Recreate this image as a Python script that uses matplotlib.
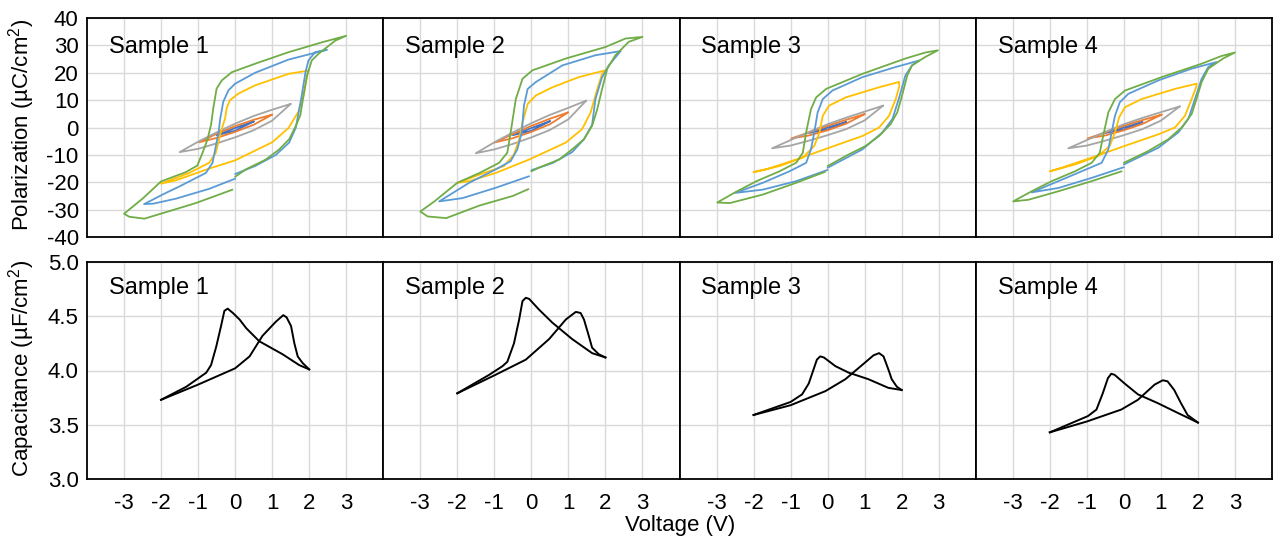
import matplotlib
matplotlib.use('Agg')
import matplotlib.pyplot as plt
import numpy as np

plt.rcParams['font.family'] = ['Liberation Sans', 'DejaVu Sans']
plt.rcParams['axes.unicode_minus'] = False
plt.rcParams['mathtext.fontset'] = 'custom'
plt.rcParams['mathtext.rm'] = 'Liberation Sans'
plt.rcParams['mathtext.it'] = 'Liberation Sans'

# --- P-V loops, (voltage V, polarization uC/cm2) in drawing order ---
S1_05 = [(0.5, 2.2), (0.0, -0.2), (-0.5, -2.8), (0.0, -1.2), (0.5, 2.2)]
S1_10 = [(1.0, 4.7), (0.5, 2.8), (0.0, 0.5), (-0.5, -2.3), (-0.97, -5.4), (-0.5, -3.8), (0.0, -1.6), (0.5, 1.0), (1.0, 4.7)]
S1_15 = [(1.5, 8.6), (1.0, 6.5), (0.5, 4.2), (0.0, 1.4), (-0.5, -1.8), (-1.0, -5.2), (-1.5, -9.0),
         (-1.0, -7.8), (-0.5, -5.8), (0.0, -3.6), (0.5, -1.0), (1.0, 2.5), (1.5, 8.6)]
S1_20 = [(1.98, 20.8), (1.44, 19.6), (0.54, 15.4), (0.09, 12.4), (-0.14, 10.0), (-0.23, 7.0), (-0.27, 3.4),
         (-0.39, -1.8), (-0.52, -9.2), (-0.7, -12.9), (-1.24, -16.6), (-2.0, -20.5), (-1.6, -19.3), (-0.7, -15.0),
         (0.0, -12.0), (1.0, -5.4), (1.44, -0.2), (1.71, 5.8), (1.85, 11.8), (1.94, 18.4), (1.98, 20.8)]
S1_25 = [(0.0, -17.0), (0.55, -14.0), (1.1, -10.0), (1.46, -5.5), (1.64, 0.0), (1.8, 11.8), (1.9, 20.2),
         (1.98, 24.5), (2.16, 27.5), (2.48, 28.4), (1.44, 24.8), (0.54, 20.0), (0.0, 16.0), (-0.18, 13.6),
         (-0.32, 9.4), (-0.4, 3.4), (-0.45, -2.0), (-0.52, -6.7), (-0.61, -12.9), (-0.79, -16.6), (-1.5, -21.5),
         (-1.96, -24.5), (-2.46, -28.0), (-2.2, -27.8), (-1.6, -26.0), (-0.7, -22.4), (0.0, -18.7)]
S1_30 = [(0.0, -18.0), (0.29, -15.3), (0.83, -11.7), (1.19, -8.0), (1.46, -4.3), (1.64, 0.6), (1.76, 4.5),
         (1.85, 11.8), (1.94, 19.0), (2.07, 24.5), (2.25, 26.9), (2.7, 31.7), (3.0, 33.5), (2.34, 31.1),
         (1.44, 27.5), (0.54, 23.3), (-0.09, 20.2), (-0.36, 17.2), (-0.5, 14.2), (-0.59, 7.0), (-0.65, 1.0),
         (-0.75, -4.5), (-0.89, -9.6), (-1.02, -13.9), (-1.33, -16.3), (-2.0, -19.7), (-2.5, -26.0),
         (-3.0, -31.5), (-2.86, -32.6), (-2.45, -33.3), (-1.96, -31.3), (-1.06, -27.6), (-0.07, -22.7)]

S2_05 = [(0.5, 2.3), (0.0, -0.2), (-0.5, -2.8), (0.0, -1.2), (0.5, 2.3)]
S2_10 = [(0.99, 5.5), (0.5, 3.2), (0.0, 0.6), (-0.5, -2.4), (-1.0, -5.5), (-0.5, -3.9), (0.0, -1.6), (0.5, 1.2), (0.99, 5.5)]
S2_15 = [(1.48, 9.8), (1.0, 7.2), (0.5, 4.6), (0.0, 1.6), (-0.5, -1.8), (-1.0, -5.4), (-1.5, -9.4),
         (-1.0, -8.0), (-0.5, -6.0), (0.0, -3.6), (0.5, -0.9), (1.0, 3.0), (1.48, 9.8)]
S2_20 = [(2.0, 20.9), (1.28, 18.4), (0.57, 14.7), (0.12, 11.7), (-0.1, 8.6), (-0.24, 1.8), (-0.33, -4.3),
         (-0.47, -9.8), (-0.74, -14.1), (-1.4, -17.2), (-2.0, -20.2), (-1.68, -19.6), (-0.96, -16.6),
         (-0.06, -11.7), (0.93, -5.5), (1.37, -0.6), (1.6, 5.5), (1.78, 14.1), (1.91, 19.6), (2.0, 20.9)]
S2_25 = [(0.0, -15.6), (0.57, -13.0), (1.1, -9.0), (1.42, -4.3), (1.64, 1.0), (1.73, 10.4), (1.9, 18.0),
         (2.09, 22.7), (2.41, 27.9), (1.73, 26.4), (0.84, 22.7), (0.12, 16.6), (-0.1, 14.1), (-0.2, 8.0),
         (-0.26, -1.8), (-0.38, -8.0), (-0.56, -12.3), (-0.96, -15.3), (-1.68, -20.2), (-2.49, -27.0),
         (-1.86, -25.8), (-0.96, -22.0), (-0.06, -17.8)]
S2_30 = [(0.0, -16.0), (0.2, -14.7), (0.75, -11.7), (1.1, -8.0), (1.42, -4.3), (1.64, 0.6), (1.78, 6.7),
         (1.91, 14.1), (2.05, 21.5), (2.27, 26.4), (2.63, 31.3), (3.0, 33.1), (2.54, 32.5), (2.0, 29.4),
         (0.93, 25.2), (0.03, 20.9), (-0.24, 17.8), (-0.42, 10.4), (-0.56, -1.8), (-0.65, -9.2), (-0.87, -12.9),
         (-1.4, -16.6), (-2.0, -20.2), (-2.62, -27.0), (-3.0, -30.7), (-2.8, -32.5), (-2.3, -33.1),
         (-1.4, -28.5), (-0.5, -25.0), (-0.08, -22.5)]

S3_05 = [(0.5, 2.0), (0.0, 0.0), (-0.5, -2.0), (0.0, -0.8), (0.5, 2.0)]
S3_10 = [(1.0, 4.9), (0.5, 2.8), (0.0, 0.6), (-0.5, -1.8), (-0.98, -4.0), (-0.5, -2.9), (0.0, -1.0), (0.5, 1.4), (1.0, 4.9)]
S3_15 = [(1.5, 8.0), (1.0, 5.8), (0.5, 3.6), (0.0, 1.2), (-0.5, -1.6), (-1.0, -4.6), (-1.5, -7.6),
         (-1.0, -6.6), (-0.5, -4.8), (0.0, -2.8), (0.5, -0.6), (1.0, 2.6), (1.5, 8.0)]
S3_20 = [(1.92, 16.6), (1.39, 14.7), (0.49, 11.0), (0.04, 8.0), (-0.13, 4.3), (-0.22, -1.8), (-0.36, -6.7),
         (-0.67, -11.0), (-1.3, -14.1), (-2.0, -16.3), (-1.66, -15.3), (-0.85, -11.7), (0.04, -7.4),
         (0.94, -3.1), (1.39, 0.0), (1.66, 4.3), (1.84, 10.4), (1.94, 15.3), (1.92, 16.6)]
S3_25 = [(0.0, -14.7), (0.94, -8.0), (1.48, -1.8), (1.75, 3.1), (1.92, 10.4), (2.1, 19.0), (2.28, 22.7),
         (2.48, 24.5), (1.84, 22.1), (0.94, 18.4), (0.13, 13.5), (-0.13, 10.4), (-0.27, 5.5), (-0.36, -1.8),
         (-0.45, -8.0), (-0.58, -12.9), (-1.03, -16.0), (-1.75, -20.2), (-2.5, -23.9), (-1.75, -22.7),
         (-0.85, -19.6), (0.0, -15.5)]
S3_30 = [(0.0, -14.1), (0.49, -10.4), (1.03, -6.7), (1.39, -3.1), (1.7, 1.2), (1.88, 5.5), (2.01, 11.7),
         (2.15, 19.0), (2.28, 22.7), (2.64, 25.8), (2.98, 28.2), (2.64, 27.4), (2.1, 25.2), (0.94, 19.6),
         (-0.04, 14.1), (-0.31, 11.0), (-0.45, 6.7), (-0.58, -1.8), (-0.67, -9.2), (-0.85, -12.9), (-1.3, -16.0),
         (-1.92, -19.6), (-2.5, -23.7), (-2.98, -27.4), (-2.64, -27.6), (-1.75, -24.5), (-0.85, -20.2), (-0.07, -16.2)]

S4_05 = [(0.5, 2.0), (0.0, 0.0), (-0.5, -2.0), (0.0, -0.8), (0.5, 2.0)]
S4_10 = [(1.02, 4.7), (0.5, 2.7), (0.0, 0.6), (-0.5, -1.8), (-0.98, -4.0), (-0.5, -2.9), (0.0, -1.0), (0.5, 1.3), (1.02, 4.7)]
S4_15 = [(1.51, 7.7), (1.0, 5.6), (0.5, 3.5), (0.0, 1.2), (-0.5, -1.6), (-1.0, -4.6), (-1.5, -7.6),
         (-1.0, -6.6), (-0.5, -4.8), (0.0, -2.8), (0.5, -0.6), (1.0, 2.5), (1.51, 7.7)]
S4_20 = [(1.96, 16.0), (1.38, 14.1), (0.48, 10.4), (0.03, 7.4), (-0.13, 3.7), (-0.24, -1.8), (-0.38, -6.7),
         (-0.69, -10.4), (-1.32, -13.5), (-2.0, -16.0), (-1.68, -14.7), (-0.87, -11.0), (0.03, -6.7),
         (0.93, -2.5), (1.38, 0.0), (1.65, 4.3), (1.83, 10.4), (1.96, 15.0), (1.96, 16.0)]
S4_25 = [(0.0, -13.5), (0.93, -7.4), (1.47, -1.8), (1.74, 3.1), (1.92, 10.4), (2.1, 17.8), (2.28, 22.1),
         (2.5, 23.9), (1.83, 21.5), (0.93, 17.2), (0.12, 12.3), (-0.11, 9.2), (-0.24, 4.3), (-0.33, -1.8),
         (-0.42, -8.0), (-0.6, -12.9), (-1.14, -16.0), (-1.77, -19.6), (-2.49, -23.7), (-1.77, -22.1),
         (-0.87, -18.4), (0.0, -14.5)]
S4_30 = [(0.0, -12.9), (0.66, -8.6), (1.2, -4.3), (1.56, 0.0), (1.83, 4.9), (1.96, 10.4), (2.1, 16.6),
         (2.28, 21.5), (2.68, 25.2), (3.0, 27.4), (2.63, 26.1), (2.1, 23.3), (1.02, 18.4), (0.03, 13.5),
         (-0.24, 10.4), (-0.42, 5.5), (-0.56, -3.1), (-0.65, -9.2), (-0.87, -12.9), (-1.32, -16.0),
         (-1.95, -19.6), (-2.49, -23.3), (-2.99, -27.0), (-2.58, -26.4), (-1.77, -23.3), (-0.87, -19.6), (-0.06, -16.0)]

# --- C-V curves, (voltage V, capacitance uF/cm2); forward sweep then reverse sweep ---
S1_CV_FWD = [(-2.0, 3.73), (-1.0, 3.87), (0.0, 4.02), (0.39, 4.13), (0.74, 4.32), (1.1, 4.45), (1.3, 4.51),
             (1.39, 4.49), (1.51, 4.41), (1.6, 4.25), (1.69, 4.13), (1.82, 4.07), (2.0, 4.01)]
S1_CV_REV = [(2.0, 4.01), (1.73, 4.05), (1.28, 4.15), (0.65, 4.27), (0.3, 4.39), (0.12, 4.47), (-0.06, 4.53),
             (-0.2, 4.57), (-0.29, 4.55), (-0.38, 4.41), (-0.51, 4.22), (-0.65, 4.05), (-0.78, 3.98),
             (-1.32, 3.85), (-2.0, 3.73)]
S2_CV_FWD = [(-2.0, 3.79), (-1.0, 3.955), (-0.15, 4.1), (0.48, 4.29), (0.93, 4.47), (1.2, 4.54), (1.33, 4.53),
             (1.42, 4.47), (1.55, 4.32), (1.64, 4.21), (1.82, 4.15), (2.0, 4.12)]
S2_CV_REV = [(2.0, 4.12), (1.64, 4.16), (1.1, 4.29), (0.57, 4.44), (0.21, 4.56), (-0.06, 4.66), (-0.15, 4.67),
             (-0.24, 4.64), (-0.33, 4.47), (-0.47, 4.25), (-0.65, 4.08), (-0.78, 4.04), (-1.14, 3.96), (-2.0, 3.79)]
S3_CV_FWD = [(-2.0, 3.59), (-1.0, 3.68), (-0.06, 3.81), (0.48, 3.92), (0.93, 4.05), (1.24, 4.14), (1.39, 4.16),
             (1.51, 4.13), (1.64, 4.01), (1.73, 3.92), (1.87, 3.85), (2.0, 3.82)]
S3_CV_REV = [(2.0, 3.82), (1.64, 3.84), (1.1, 3.92), (0.57, 3.98), (0.21, 4.04), (-0.1, 4.12), (-0.2, 4.13),
             (-0.29, 4.1), (-0.38, 4.01), (-0.51, 3.88), (-0.69, 3.78), (-1.0, 3.71), (-2.0, 3.59)]
S4_CV_FWD = [(-2.0, 3.43), (-1.0, 3.53), (-0.07, 3.64), (0.38, 3.73), (0.83, 3.87), (1.05, 3.91), (1.18, 3.9),
             (1.36, 3.82), (1.54, 3.7), (1.72, 3.59), (2.0, 3.52)]
S4_CV_REV = [(2.0, 3.52), (1.45, 3.61), (0.91, 3.7), (0.38, 3.78), (0.02, 3.88), (-0.25, 3.96), (-0.34, 3.97),
             (-0.43, 3.93), (-0.57, 3.79), (-0.74, 3.64), (-0.97, 3.58), (-2.0, 3.43)]

SAMPLES = ["Sample 1", "Sample 2", "Sample 3", "Sample 4"]
PV_LOOPS = [
    [S1_05, S1_10, S1_15, S1_20, S1_25, S1_30],
    [S2_05, S2_10, S2_15, S2_20, S2_25, S2_30],
    [S3_05, S3_10, S3_15, S3_20, S3_25, S3_30],
    [S4_05, S4_10, S4_15, S4_20, S4_25, S4_30],
]
CV_CURVES = [
    [S1_CV_FWD, S1_CV_REV],
    [S2_CV_FWD, S2_CV_REV],
    [S3_CV_FWD, S3_CV_REV],
    [S4_CV_FWD, S4_CV_REV],
]
LOOP_COLORS = ["#4472C4", "#ED7D31", "#A5A5A5", "#FFC000", "#5B9BD5", "#70AD47"]
P_TICKS = list(range(-40, 41, 10))
C_TICKS = [3.0, 3.5, 4.0, 4.5, 5.0]
V_TICKS = [-3, -2, -1, 0, 1, 2, 3]

GRID = "#D9D9D9"
FS = 16

fig = plt.figure(figsize=(12.73, 5.46), dpi=100)
left, width = 87 / 1273, 296.25 / 1273
top_row = (1 - 237 / 546, (237 - 18) / 546)
bot_row = (1 - 479 / 546, (479 - 262) / 546)


def style(ax, yticks, ylim, show_y, show_x, fmt):
    ax.set_xlim(-4, 4)
    ax.set_ylim(*ylim)
    ax.set_xticks(V_TICKS)
    ax.set_yticks(yticks)
    ax.grid(True, color=GRID, linewidth=1.0)
    ax.set_axisbelow(True)
    ax.tick_params(length=0, labelsize=FS, colors="#000000", pad=6)
    ax.tick_params(axis="x", pad=10)
    for s in ax.spines.values():
        s.set_color("#000000")
        s.set_linewidth(1.3)
    if show_y:
        ax.set_yticklabels([fmt(t) for t in yticks])
    else:
        ax.set_yticklabels([])
    if show_x:
        ax.set_xticklabels([str(t) for t in V_TICKS])
    else:
        ax.set_xticklabels([])


for i, name in enumerate(SAMPLES):
    ax = fig.add_axes([left + i * width, top_row[0], width, top_row[1]])
    style(ax, P_TICKS, (-40, 40), i == 0, False, lambda t: str(t))
    for pts, col in zip(PV_LOOPS[i], LOOP_COLORS):
        v = [p[0] for p in pts]
        pp = [p[1] for p in pts]
        ax.plot(v, pp, color=col, linewidth=1.3, solid_joinstyle="round", solid_capstyle="round")
    ax.text(0.074, 0.868, name, transform=ax.transAxes, fontsize=17, va="center", ha="left")

    bx = fig.add_axes([left + i * width, bot_row[0], width, bot_row[1]])
    style(bx, C_TICKS, (3.0, 5.0), i == 0, True, lambda t: f"{t:.1f}")
    for pts in CV_CURVES[i]:
        v = [p[0] for p in pts]
        c = [p[1] for p in pts]
        bx.plot(v, c, color="#000000", linewidth=1.4, solid_joinstyle="round")
    bx.text(0.074, 0.88, name, transform=bx.transAxes, fontsize=17, va="center", ha="left")

fig.text(22 / 1273, 1 - 125 / 546, "Polarization (\u00b5C/cm$^2$)", rotation=90, fontsize=FS,
         ha="center", va="center")
fig.text(22 / 1273, 1 - 368 / 546, "Capacitance (\u00b5F/cm$^2$)", rotation=90, fontsize=FS,
         ha="center", va="center")
fig.text(680 / 1273, 1 - 525 / 546, "Voltage (V)", fontsize=FS, ha="center", va="center")

fig.savefig("out.png", dpi=100)
